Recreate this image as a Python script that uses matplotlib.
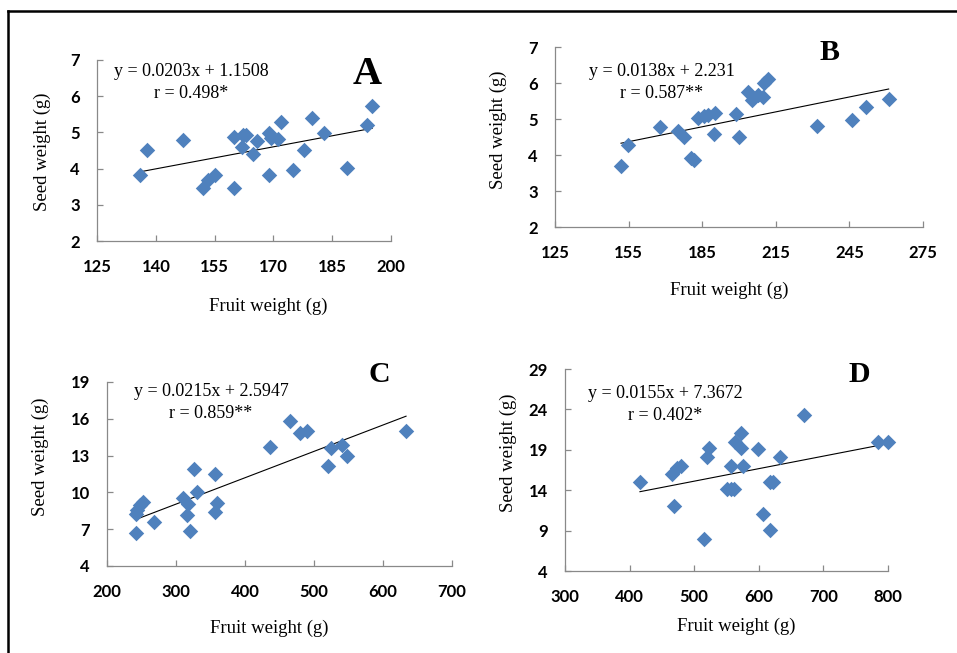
import numpy as np
import matplotlib.pyplot as plt
from matplotlib.lines import Line2D

W, H = 957, 653

# панель A
fruit_a = [135.9, 137.7, 146.9, 152.0, 153.3, 155.0, 160.0, 160.0, 162.0, 162.2, 163.1, 164.8,
           165.7, 169.0, 169.0, 169.5, 171.2, 172.0, 175.0, 177.8, 179.8, 182.8, 188.9, 194.0, 195.2]
seed_a = [3.81, 4.51, 4.79, 3.46, 3.69, 3.81, 3.46, 4.87, 4.61, 4.93, 4.93, 4.41,
          4.75, 3.83, 4.98, 4.84, 4.81, 5.30, 3.97, 4.51, 5.40, 4.97, 4.02, 5.20, 5.72]
coef_a = (0.0203, 1.1508)

# панель B
fruit_b = [151.9, 154.9, 167.7, 175.3, 177.5, 180.4, 181.8, 183.4, 185.9, 187.2, 190.2, 189.9,
           198.8, 199.9, 203.5, 205.2, 207.6, 209.7, 210.3, 211.7, 231.8, 245.9, 251.7, 261.0]
seed_b = [3.69, 4.27, 4.79, 4.67, 4.51, 3.91, 3.86, 5.02, 5.07, 5.11, 5.18, 4.57,
          5.13, 4.49, 5.76, 5.53, 5.67, 5.62, 5.99, 6.11, 4.81, 4.96, 5.33, 5.56]
coef_b = (0.0138, 2.231)

# панель C
fruit_c = [242.0, 241.5, 243.8, 248.3, 252.1, 268.5, 310.0, 317.3, 315.8, 319.7, 325.6, 330.4,
           355.9, 359.3, 357.0, 435.7, 465.6, 479.9, 490.5, 520.9, 524.3, 540.2, 547.4, 633.4]
seed_c = [6.66, 8.21, 8.56, 8.96, 9.24, 7.61, 9.51, 9.02, 8.15, 6.88, 11.92, 10.05,
          8.42, 9.10, 11.46, 13.71, 15.81, 14.85, 15.01, 12.14, 13.66, 13.85, 12.96, 14.99]
coef_c = (0.0215, 2.5947)

# панель D
fruit_d = [416.0, 465.0, 469.0, 473.7, 478.9, 514.4, 519.1, 523.2, 550.0, 557.7, 561.9, 556.7,
           563.9, 572.2, 573.2, 575.8, 599.0, 606.7, 618.0, 622.2, 617.5, 633.0, 669.6, 784.5, 800.0]
seed_d = [14.97, 16.0, 12.03, 16.7, 17.05, 8.01, 18.07, 19.19, 14.14, 14.14, 14.14, 17.05,
          20.02, 21.05, 19.19, 17.05, 19.07, 11.04, 14.97, 14.97, 9.05, 18.07, 23.33, 20.02, 20.02]
coef_d = (0.0155, 7.3672)

eq_texts = ['y = 0.0203x + 1.1508', 'y = 0.0138x + 2.231', 'y = 0.0215x + 2.5947', 'y = 0.0155x + 7.3672']
r_texts = ['r = 0.498*', 'r = 0.587**', 'r = 0.859**', 'r = 0.402*']
letters = ['A', 'B', 'C', 'D']

panels = [
    # (x, y, coef, xlim, xstep, ylim, ystep)
    (fruit_a, seed_a, coef_a, (125, 200), 15, (2, 7), 1),
    (fruit_b, seed_b, coef_b, (125, 275), 30, (2, 7), 1),
    (fruit_c, seed_c, coef_c, (200, 700), 100, (4, 19), 3),
    (fruit_d, seed_d, coef_d, (300, 800), 100, (4, 29), 5),
]

# расположение в пикселях: left, right, top, bottom
boxes = [(97, 391, 60, 241), (555, 923, 47, 227), (107, 452, 382, 566), (565, 888, 369, 571)]
eq_pos = [(191, 71), (662, 72), (211, 391), (665, 394)]
r_pos = [(191, 93), (662, 93), (211, 413), (665, 416)]
let_pos = [(367, 74), (830, 52), (379, 375), (859, 375)]
let_size = [29, 21.5, 21.5, 21.5]
xl_pos = [(268, 306), (729, 290), (269, 628), (736, 626)]
yl_pos = [(42, 152), (498, 130), (40, 457), (508, 453)]

axis_grey = '#898989'
blue = '#4F81BD'
serif = 'Liberation Serif'


def fx(px):
    return px / W


def fy(py):
    return 1 - py / H


fig = plt.figure(figsize=(W / 100, H / 100), dpi=100)

for i, (xs, ys, coef, xlim, xstep, ylim, ystep) in enumerate(panels):
    l, r, t, b = boxes[i]
    ax = fig.add_axes([fx(l), fy(b), (r - l) / W, (b - t) / H])

    ax.scatter(xs, ys, marker='D', s=62, color=blue, linewidths=0, zorder=3, clip_on=False)

    xline = np.array([min(xs), max(xs)])
    ax.plot(xline, coef[0] * xline + coef[1], color='black', linewidth=0.8, zorder=2)

    ax.set_xlim(*xlim)
    ax.set_ylim(*ylim)
    ax.set_xticks(np.arange(xlim[0], xlim[1] + 1, xstep))
    ax.set_yticks(np.arange(ylim[0], ylim[1] + 1, ystep))

    for side in ['top', 'right']:
        ax.spines[side].set_visible(False)
    for side in ['left', 'bottom']:
        ax.spines[side].set_color(axis_grey)
        ax.spines[side].set_linewidth(0.9)

    ax.tick_params(axis='both', direction='in', length=4, width=0.9, color=axis_grey)
    ax.tick_params(axis='x', pad=13.2)
    ax.tick_params(axis='y', pad=12.2)
    for lab in ax.get_xticklabels() + ax.get_yticklabels():
        lab.set_fontfamily('Lato')
        lab.set_fontweight('bold')
        lab.set_fontsize(12)

    fig.text(fx(eq_pos[i][0]), fy(eq_pos[i][1]), eq_texts[i], family=serif, fontsize=13,
             ha='center', va='center')
    fig.text(fx(r_pos[i][0]), fy(r_pos[i][1]), r_texts[i], family=serif, fontsize=13,
             ha='center', va='center')
    fig.text(fx(let_pos[i][0]), fy(let_pos[i][1]), letters[i], family=serif, fontweight='bold',
             fontsize=let_size[i], ha='center', va='center')
    fig.text(fx(xl_pos[i][0]), fy(xl_pos[i][1]), 'Fruit weight (g)', family=serif, fontsize=13.5,
             ha='center', va='center')
    fig.text(fx(yl_pos[i][0]), fy(yl_pos[i][1]), 'Seed weight (g)', family=serif, fontsize=13.5,
             ha='center', va='center', rotation=90)

# рамка сверху и слева
fig.add_artist(Line2D([fx(8), 1], [fy(10.5), fy(10.5)], color='black', linewidth=1.8))
fig.add_artist(Line2D([fx(8), fx(8)], [fy(10.5), 0], color='black', linewidth=1.8))

plt.savefig('out.png', dpi=100)
